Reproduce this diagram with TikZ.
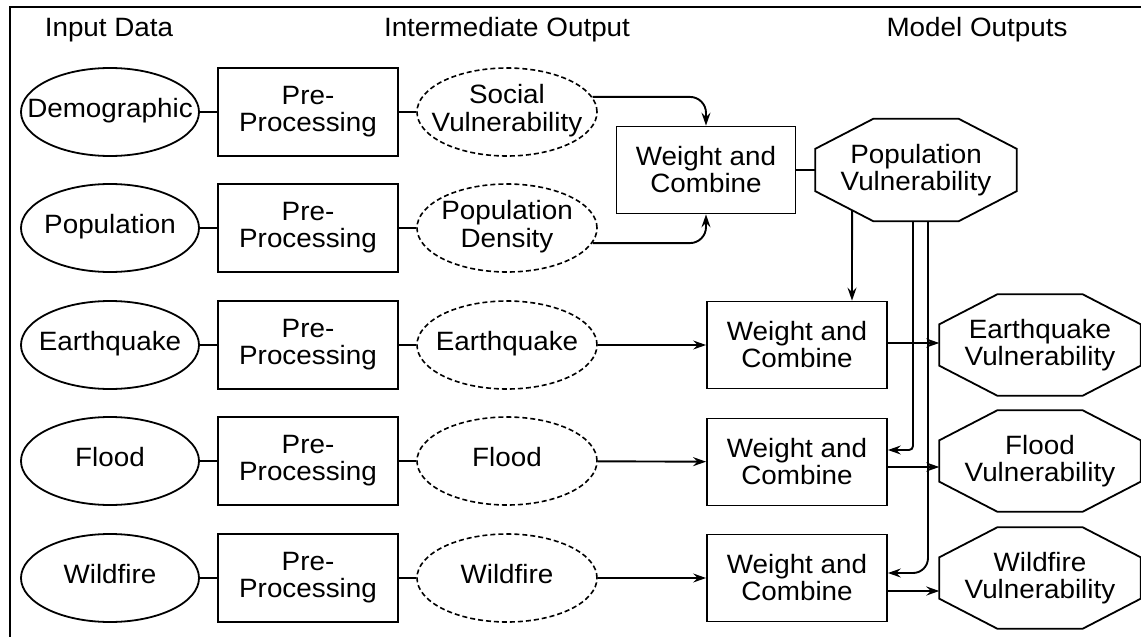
\documentclass[tikz,border=0pt]{standalone}
\usepackage{fontspec}
\setmainfont{Liberation Sans}[FakeStretch=1.05]
\usetikzlibrary{arrows.meta,calc,shapes.geometric}
\newcommand{\drawocta}[1]{%
  \draw[octline] ([xshift=58pt]#1.north west) -- ([xshift=-58pt]#1.north east)
    -- ([yshift=-30pt]#1.north east) -- ([yshift=30pt]#1.south east)
    -- ([xshift=-58pt]#1.south east) coordinate (#1-b0)
    -- ([xshift=58pt]#1.south west) coordinate (#1-b1)
    -- ([yshift=30pt]#1.south west) coordinate (#1-b2)
    -- ([yshift=-30pt]#1.north west) -- cycle;}
\newcommand{\ztext}[1]{\makebox[0pt]{\begin{tabular}{@{}c@{}}#1\end{tabular}}}
\begin{document}
\begin{tikzpicture}[x=1pt,y=-1pt,
  every node/.style={font=\fontsize{26.5}{27}\selectfont, align=center, inner sep=0pt},
  inp/.style={ellipse, draw, line width=1.8pt, minimum width=178pt, minimum height=88pt},
  prebox/.style={rectangle, draw, line width=1.8pt, minimum width=180pt, minimum height=88pt},
  midell/.style={ellipse, draw, dash pattern=on 5pt off 3pt, line width=1.6pt, minimum width=180pt, minimum height=88pt},
  wcbox/.style={rectangle, draw, line width=1.8pt, minimum width=180pt, minimum height=87pt},
  octnode/.style={rectangle, minimum width=201pt, minimum height=101pt},
  octline/.style={line width=1.8pt, line join=miter},
  conn/.style={line width=1.9pt},
  arr/.style={line width=1.9pt, -{Stealth[length=13pt,width=9pt,inset=4.5pt]}},
  hdr/.style={font=\fontsize{26.5}{27}\selectfont}
]
\useasboundingbox (0,0) rectangle (1141,637);
\draw[line width=2.8pt] (10,640) -- (10,7) -- (1145,7);

\node[hdr] (h1) at (109,30) {Input Data};
\node[hdr] (h2) at (507,30) {Intermediate Output};
\node[hdr] (h3) at (977,30) {Model Outputs};

% input ellipses
\node[inp] (d1) at (110,112) {\ztext{Demographic}};
\node[inp] (d2) at (110,228) {\ztext{Population}};
\node[inp] (d3) at (110,345) {\ztext{Earthquake}};
\node[inp] (d4) at (110,461) {\ztext{Flood}};
\node[inp] (d5) at (110,578) {\ztext{Wildfire}};

% pre-processing
\foreach \i/\y in {1/112,2/228,3/345,4/461,5/578}
  \node[prebox] (p\i) at (308,\y) {Pre-\\Processing};

% intermediate
\node[midell] (i1) at (507,112) {\ztext{Social\\Vulnerability}};
\node[midell] (i2) at (507,228) {\ztext{Population\\Density}};
\node[midell] (i3) at (507,345) {\ztext{Earthquake}};
\node[midell] (i4) at (507,461) {\ztext{Flood}};
\node[midell] (i5) at (507,578) {\ztext{Wildfire}};

% weight and combine
\node[wcbox, minimum width=179pt] (w0) at (706,170) {Weight and\\Combine};
\node[wcbox] (w3) at (797,345) {Weight and\\Combine};
\node[wcbox] (w4) at (797,462) {Weight and\\Combine};
\node[wcbox] (w5) at (797,578) {Weight and\\Combine};

% octagons
\node[octnode, minimum height=102pt] (pv) at (916,170) {Population\\Vulnerability};
\node[octnode] (o3) at (1040,345) {Earthquake\\Vulnerability};
\node[octnode] (o4) at (1040,461) {Flood\\Vulnerability};
\node[octnode] (o5) at (1040,578) {Wildfire\\Vulnerability};
\drawocta{pv}
\drawocta{o3}
\drawocta{o4}
\drawocta{o5}

% connectors
\foreach \i in {1,...,5} {
  \draw[conn] (d\i) -- (p\i);
  \draw[conn] (p\i) -- (i\i);
}
\draw[arr, rounded corners=16pt] (i1.10) -| (w0.north);
\draw[arr, rounded corners=16pt] (i2.-10) -| (w0.south);
\draw[conn] (w0) -- (pv);
\draw[arr] (i3) -- (w3);
\draw[arr] (i4) -- (w4);
\draw[arr] (i5) -- (w5);
\draw[arr] ([yshift=2pt]w3.east) -- ([yshift=2pt]w3.east -| o3.west);
\draw[arr] ([yshift=-5pt]w4.east) -- ([yshift=-5pt]w4.east -| o4.west);
\draw[arr] ([yshift=-13pt]w5.east) -- ([yshift=-13pt]w5.east -| o5.west);

\coordinate (w3t) at ([xshift=55pt]w3.north);
\coordinate (w3u) at (w3t |- pv.center);
\draw[arr] (intersection of pv-b1--pv-b2 and w3t--w3u) -- (w3t);
\draw[arr, rounded corners=4pt] ([xshift=-3pt]pv.south) |- ([yshift=12pt]w4.east);
\draw[arr, rounded corners=15pt] ([xshift=12pt]pv.south) |- ([yshift=5pt]w5.east);
\end{tikzpicture}
\end{document}
